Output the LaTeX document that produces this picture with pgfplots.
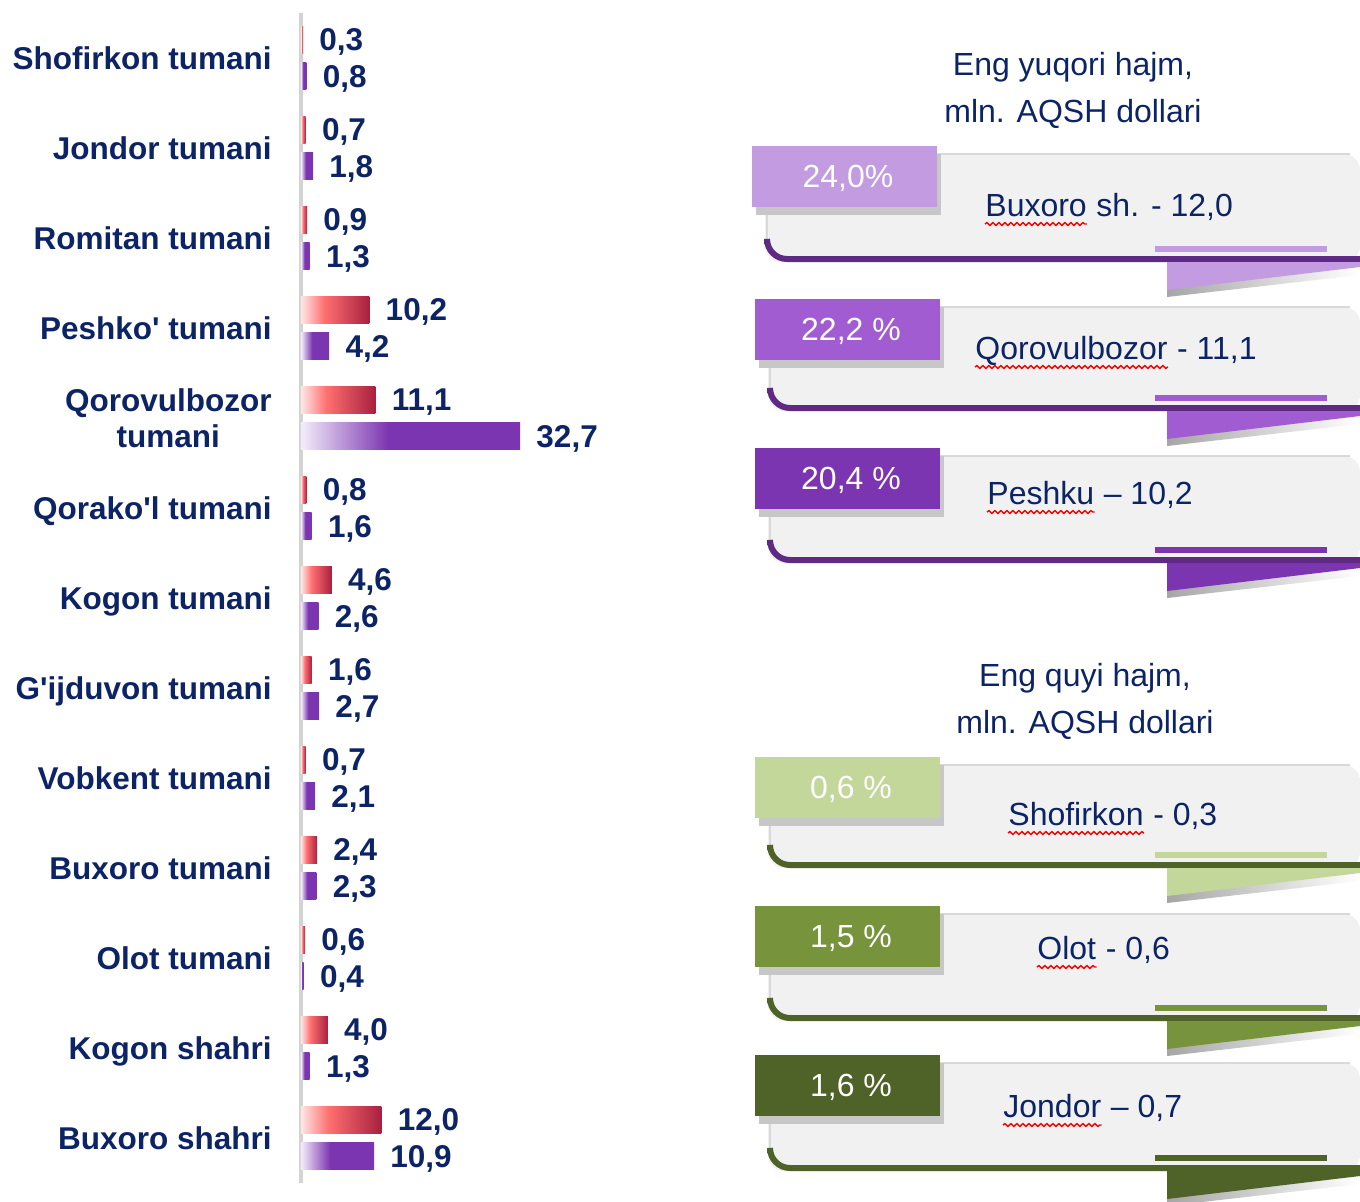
\documentclass[border=0pt]{standalone}
\usepackage{fontspec}
\setmainfont{Liberation Sans}
\usepackage{pgfplots}
\usepackage{pgfplotstable}
\pgfplotsset{compat=1.18}
\usetikzlibrary{decorations.pathmorphing}

\definecolor{navy}{HTML}{0C2466}
\definecolor{redL}{HTML}{FFE6E6}
\definecolor{redM}{HTML}{FF7070}
\definecolor{redR}{HTML}{A8203F}
\definecolor{purL}{HTML}{F3EDF9}
\definecolor{purM}{HTML}{7B35B0}
\definecolor{axisgray}{HTML}{D3D3D3}
\definecolor{boxgray}{HTML}{F1F1F1}
\definecolor{lp}{HTML}{C39BE0}
\definecolor{mp}{HTML}{A05CD0}
\definecolor{dp}{HTML}{7B35B0}
\definecolor{dline}{HTML}{5E2A84}
\definecolor{lg}{HTML}{C4D79B}
\definecolor{mg}{HTML}{77933C}
\definecolor{dg}{HTML}{4F6228}

\pgfdeclarehorizontalshading{redbar}{100bp}{color(0bp)=(redL); color(25bp)=(redL); color(42bp)=(redM); color(75bp)=(redR); color(100bp)=(redR)}
\pgfdeclarehorizontalshading{purbar}{100bp}{color(0bp)=(purL); color(25bp)=(purL); color(45bp)=(purM); color(75bp)=(purM); color(100bp)=(purM)}

\pgfplotstableread{
idx red purple
0 0.3 0.8
1 0.7 1.8
2 0.9 1.3
3 10.2 4.2
4 11.1 32.7
5 0.8 1.6
6 4.6 2.6
7 1.6 2.7
8 0.7 2.1
9 2.4 2.3
10 0.6 0.4
11 4.0 1.3
12 12.0 10.9
}\datatable

\newcommand\cfont{\fontsize{16}{19}\selectfont}

% #1 tab top, #2 box bottom, #3 tab left, #4 colour, #5 line colour,
% #6 percent, #7 first word, #8 rest, #9 text base position
\newcommand\callout[9]{%
  \fill[boxgray, rounded corners=8] (#3+13,#1+8) -- (1360,#1+8) -- (1360,#2) -- (#3+13,#2) -- cycle;
  \draw[gray!30, line width=1.2pt] (#3+185,#1+8) -- (1350,#1+8);
  \draw[gray!30, line width=1pt] (#3+15,#1+61) -- (#3+15,#2-14);
  \draw[#5, line width=3pt, rounded corners=10] (#3+15,#2-18) -- (#3+15,#2-3) -- (1360,#2-3);
  \fill[#4] (1155,#2-16) rectangle (1327,#2-10);
  \shade[left color=gray!70, right color=white] (1167,#2+27) -- (1360,#2+5) -- (1360,#2+13) -- (1167,#2+35) -- cycle;
  \fill[#4] (1167,#2) -- (1360,#2) -- (1360,#2+5) -- (1167,#2+28) -- cycle;
  \fill[black!22] (#3+4,#1+8) rectangle (#3+189,#1+69);
  \fill[#4] (#3,#1) rectangle (#3+185,#1+61);
  \node[text=white, font=\cfont] at (#3+96,#1+32) {#6};
  \node[anchor=base west, inner sep=0pt, text=navy, font=\cfont] (w) at (#9) {#7};
  \node[anchor=base west, inner sep=0pt, text=navy, font=\cfont] at (w.base east) {#8};
  \draw[red, line width=0.7pt, decorate, decoration={snake, segment length=3pt, amplitude=0.7pt}]
     ([yshift=-4pt]w.base west) -- ([yshift=-4pt]w.base east);
}

\begin{document}
\begin{tikzpicture}

\begin{axis}[
  at={(150.5pt,-6.5pt)}, anchor=north west,
  scale only axis, width=134pt, height=585pt,
  xmin=0, xmax=40, ymin=-0.5, ymax=12.5, y dir=reverse,
  axis x line=none, axis y line*=left,
  y axis line style={draw=axisgray, line width=2pt},
  ytick={0,...,12},
  yticklabels={Shofirkon tumani, Jondor tumani, Romitan tumani, Peshko\textquotesingle{} tumani,
    {Qorovulbozor\\tumani}, Qorako\textquotesingle{}l tumani, Kogon tumani, G\textquotesingle{}ijduvon tumani,
    Vobkent tumani, Buxoro tumani, Olot tumani, Kogon shahri, Buxoro shahri},
  ytick style={draw=none}, major tick length=0pt,
  yticklabel style={font=\bfseries\fontsize{15.75}{18}\selectfont, text=navy, align=center,
    anchor=east, inner sep=0pt, xshift=-14.5pt, text depth=0pt},
  clip=false, unbounded coords=discard,
  nodes near coords style={font=\bfseries\fontsize{15.75}{18}\selectfont, text=navy,
    anchor=west, inner sep=0pt, xshift=8pt, text depth=0pt},
  /pgf/number format/fixed, /pgf/number format/fixed zerofill,
  /pgf/number format/precision=1, /pgf/number format/use comma,
  /pgf/number format/assume math mode=true,
]
\pgfplotsinvokeforeach{0,...,12}{
\addplot[xbar, bar width=13.5pt, bar shift=0pt, draw=none, shade, shading=redbar,
  restrict expr to domain={\coordindex}{#1:#1}]
  table[x=red, y expr=\thisrow{idx}-0.205] {\datatable};
\addplot[xbar, bar width=13.5pt, bar shift=0pt, draw=none, shade, shading=purbar,
  restrict expr to domain={\coordindex}{#1:#1}]
  table[x=purple, y expr=\thisrow{idx}+0.2] {\datatable};
}
\addplot[draw=none, mark=none, point meta=x, nodes near coords]
  table[x=red, y expr=\thisrow{idx}-0.205] {\datatable};
\addplot[draw=none, mark=none, point meta=x, nodes near coords]
  table[x=purple, y expr=\thisrow{idx}+0.2] {\datatable};
\end{axis}

\begin{scope}[x=0.5pt, y=-0.5pt]
\path[use as bounding box] (0,0) rectangle (1360,1201);
% titles
\node[anchor=base, text=navy, font=\cfont, inner sep=0pt] at (1073,75) {Eng yuqori hajm,};
\node[anchor=base, text=navy, font=\cfont, inner sep=0pt] at (1073,122) {mln. AQSH dollari};
\node[anchor=base, text=navy, font=\cfont, inner sep=0pt] at (1085,686) {Eng quyi hajm,};
\node[anchor=base, text=navy, font=\cfont, inner sep=0pt] at (1085,733) {mln. AQSH dollari};

\callout{146}{262}{752}{lp}{dline}{24,0\%}{Buxoro}{\ sh. - 12,0}{985,216}
\callout{299}{411}{755}{mp}{dline}{22,2 \%}{Qorovulbozor}{\ - 11,1}{975,359}
\callout{448}{563}{755}{dp}{dline}{20,4 \%}{Peshku}{\ – 10,2}{987,504}
\callout{757}{868}{755}{lg}{dg}{0,6 \%}{Shofirkon}{\ - 0,3}{1008,825}
\callout{906}{1021}{755}{mg}{dg}{1,5 \%}{Olot}{\ - 0,6}{1037,959}
\callout{1055}{1171}{755}{dg}{dg}{1,6 \%}{Jondor}{\ – 0,7}{1003,1117}
\end{scope}
\end{tikzpicture}
\end{document}
